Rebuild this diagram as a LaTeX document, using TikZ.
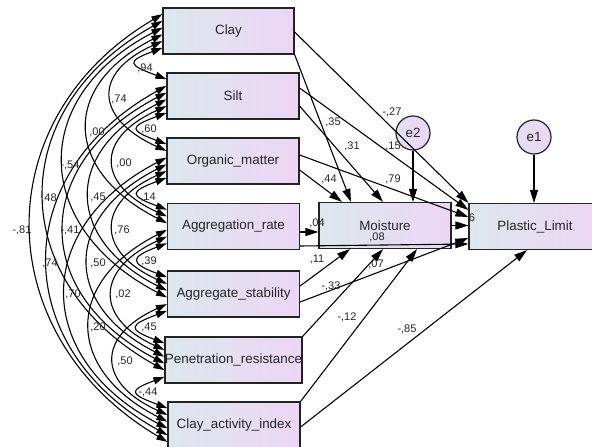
\documentclass[tikz,border=0pt]{standalone}
\usepackage{fontspec}
\setmainfont{Liberation Sans}
\usetikzlibrary{arrows.meta,calc,shadings}
\definecolor{boxleft}{RGB}{221,231,237}
\definecolor{boxright}{RGB}{236,214,245}
\definecolor{edge}{RGB}{35,35,35}
\begin{document}
\begin{tikzpicture}[x=1pt,y=1pt,
  var/.style={draw=edge, line width=1.2pt, left color=boxleft, right color=boxright,
    minimum width=132pt, minimum height=46pt, inner sep=0pt,
    font=\fontsize{13.4}{15}\selectfont, text=black!85},
  err/.style={draw=edge, line width=1.2pt, circle, left color=boxleft!50!boxright,
    right color=boxright, minimum size=34pt, inner sep=0pt,
    font=\fontsize{13.4}{15}\selectfont, text=black!85},
  reg/.style={-{Triangle[length=13pt,width=8pt]}, line width=1.1pt},
  cov/.style={{Triangle[length=11pt,width=7pt]}-{Triangle[length=11pt,width=7pt]}, line width=1.1pt},
  lbl/.style={font=\fontsize{11}{13}\selectfont, inner sep=0pt, text=black!85}
]
\useasboundingbox (0,0) rectangle (592,447);

% observed variables
\node[var, minimum width=131pt] (clay) at (228.5,416) {Clay};
\node[var] (silt) at (233,351) {Silt};
\node[var] (om)   at (233,286) {Organic\_matter};
\node[var] (ar)   at (233.5,220.5) {Aggregation\_rate};
\node[var] (as)   at (233.5,153) {Aggregate\_stability};
\node[var] (pr)   at (233.5,87) {Penetration\_resistance};
\node[var] (cai)  at (234,22) {Clay\_activity\_index};
\node[var] (moist) at (385,221.5) {Moisture};
\node[var] (pl)    at (535,220.5) {Plastic\_Limit};
% error terms
\node[err] (e2) at (413,314) {e2};
\node[err] (e1) at (534,310) {e1};

% attachment points on the left side of each exogenous box
\foreach \b in {clay,silt,om,ar,as,pr,cai}
  \foreach \k in {1,...,6}
    \coordinate (\b-\k) at ($(\b.north west)!{\k/7}!(\b.south west)$);

% covariances (nested arcs, wider arcs for more distant pairs)
\draw[cov] (clay-6) .. controls +(-37.3,-14) and +(-37.3,14) .. (silt-1);
\draw[cov] (silt-6) .. controls +(-37.3,-14) and +(-37.3,14) .. (om-1);
\draw[cov] (om-6)   .. controls +(-37.3,-14) and +(-37.3,14) .. (ar-1);
\draw[cov] (ar-6)   .. controls +(-37.3,-14) and +(-37.3,14) .. (as-1);
\draw[cov] (as-6)   .. controls +(-37.3,-14) and +(-37.3,14) .. (pr-1);
\draw[cov] (pr-6)   .. controls +(-37.3,-14) and +(-37.3,14) .. (cai-1);
\draw[cov] (clay-5) .. controls +(-70.7,-32) and +(-70.7,32) .. (om-2);
\draw[cov] (silt-5) .. controls +(-70.7,-32) and +(-70.7,32) .. (ar-2);
\draw[cov] (om-5)   .. controls +(-70.7,-32) and +(-70.7,32) .. (as-2);
\draw[cov] (ar-5)   .. controls +(-70.7,-32) and +(-70.7,32) .. (pr-2);
\draw[cov] (as-5)   .. controls +(-70.7,-32) and +(-70.7,32) .. (cai-2);
\draw[cov] (clay-4) .. controls +(-102.7,-52) and +(-102.7,52) .. (ar-3);
\draw[cov] (silt-4) .. controls +(-102.7,-52) and +(-102.7,52) .. (as-3);
\draw[cov] (om-4)   .. controls +(-102.7,-52) and +(-102.7,52) .. (pr-3);
\draw[cov] (ar-4)   .. controls +(-102.7,-52) and +(-102.7,52) .. (cai-3);
\draw[cov] (clay-3) .. controls +(-134.7,-70) and +(-134.7,70) .. (as-4);
\draw[cov] (silt-3) .. controls +(-134.7,-70) and +(-134.7,70) .. (pr-4);
\draw[cov] (om-3)   .. controls +(-134.7,-70) and +(-134.7,70) .. (cai-4);
\draw[cov] (clay-2) .. controls +(-158.7,-88) and +(-158.7,88) .. (pr-5);
\draw[cov] (silt-2) .. controls +(-158.7,-88) and +(-158.7,88) .. (cai-5);
\draw[cov] (clay-1) .. controls +(-178,-105) and +(-178,105) .. (cai-6);

% covariance estimates
\node[lbl] at (145,379) {,94};
\node[lbl] at (149,318) {,60};
\node[lbl] at (148,250) {,14};
\node[lbl] at (149,186) {,39};
\node[lbl] at (149,120) {,45};
\node[lbl] at (148,55)  {-,44};
\node[lbl] at (119,348) {,74};
\node[lbl] at (124,284) {,00};
\node[lbl] at (122,217) {,76};
\node[lbl] at (123,153) {,02};
\node[lbl] at (125,86)  {,50};
\node[lbl] at (97,315)  {,00};
\node[lbl] at (98,250)  {,45};
\node[lbl] at (98,184)  {,50};
\node[lbl] at (98,120)  {,20};
\node[lbl] at (70,282)  {-,54};
\node[lbl] at (70,217)  {-,41};
\node[lbl] at (73,153)  {,70};
\node[lbl] at (49,249)  {,48};
\node[lbl] at (50,184)  {,74};
\node[lbl] at (22,217)  {-,81};

% regression paths
\draw[reg] ([yshift=-1pt]clay.east) -- (pl.north west);
\draw[reg] (clay.south east) -- ([xshift=-34pt]moist.north);
\draw[reg] ([yshift=8pt]silt.east) -- ([yshift=16.5pt]pl.west);
\draw[reg] ([yshift=-10pt]silt.east) -- ([xshift=-2pt]moist.north);
\draw[reg] ([yshift=6pt]om.east) -- ([yshift=9.5pt]pl.west);
\draw[reg] ([yshift=-9pt]om.east) -- ([xshift=-43pt]moist.north);
\draw[reg] ([yshift=-5.5pt]ar.east) -- ([yshift=-5.5pt]ar.east -| moist.west);
\draw[reg] ([yshift=-19.5pt]ar.east) -- ([yshift=-17.5pt]pl.west);
\draw[reg] ([yshift=8pt]as.east) -- ([xshift=-35pt]moist.south);
\draw[reg] ([yshift=-8pt]as.east) -- ([yshift=-11.5pt]pl.west);
\draw[reg] (pr.north east) -- ([xshift=-2pt]moist.south);
\draw[reg] (cai.north east) -- ([xshift=32pt]moist.south);
\draw[reg] ([yshift=-2pt]cai.east) -- ([xshift=-8pt]pl.south);
\draw[reg] (moist.east) -- (moist.east -| pl.west);
\draw[reg] (e2.south) -- (e2.south |- moist.north);
\draw[reg] (e1.south) -- (e1.south |- pl.north);

% path estimates
\node[lbl] at (392,335) {-,27};
\node[lbl] at (333,325) {,35};
\node[lbl] at (352,301) {,31};
\node[lbl] at (393,301) {,15};
\node[lbl] at (329,268) {,44};
\node[lbl] at (393,268) {,79};
\node[lbl] at (317,224) {,04};
\node[lbl] at (377,210) {,08};
\node[lbl] at (317,188) {,11};
\node[lbl] at (376,183) {,07};
\node[lbl] at (331,161) {-,33};
\node[lbl] at (347,130) {-,12};
\node[lbl] at (407,118) {-,85};
\node[lbl] at (472,229) {6};
\end{tikzpicture}
\end{document}
